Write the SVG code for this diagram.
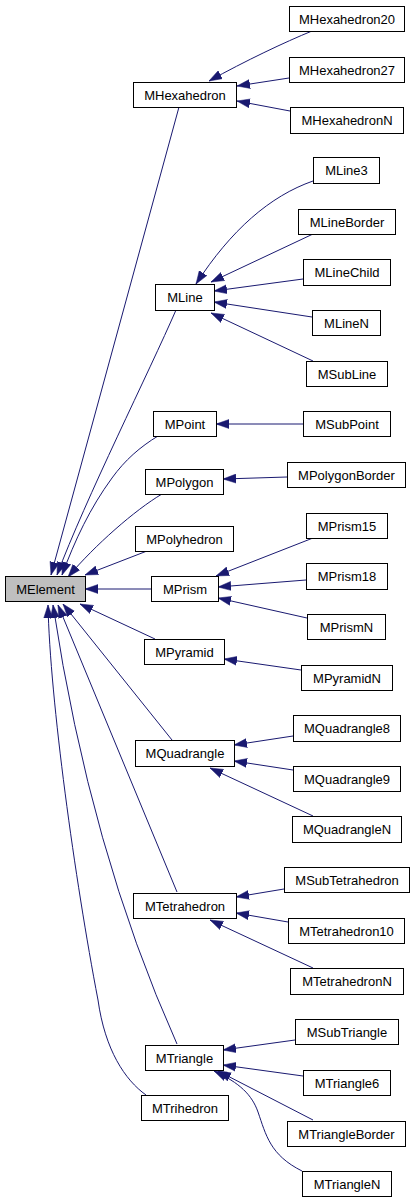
<svg xmlns="http://www.w3.org/2000/svg" width="415" height="1203" viewBox="0 0 415 1203">
<style>
.n rect{fill:#ffffff;stroke:#000000;stroke-width:1}
.n.root rect{fill:#bfbfbf}
.n text{font-family:"Liberation Sans",Arial,Helvetica,sans-serif;font-size:13px;fill:#000000;text-anchor:middle}
#edges path{fill:none;stroke:#191970;stroke-width:1;marker-end:url(#arr)}
</style>
<defs>
<marker id="arr" markerUnits="userSpaceOnUse" markerWidth="13" markerHeight="10" refX="13" refY="5" orient="auto">
<path d="M0,0.5 L13,5 L0,9.5 z" fill="#191970" stroke="#191970" stroke-width="0.5"/>
</marker>
</defs>
<rect width="415" height="1203" fill="#ffffff"/>
<g id="edges">
<path d="M312,31 C285,42 245,61 209,81"/>
<path d="M289,78 L237,86"/>
<path d="M290,111 L237,101"/>
<path d="M313,181 C270,196 231,230 196,284"/>
<path d="M313,234 L211,282"/>
<path d="M303,279 L214,291"/>
<path d="M312,317 L214,302"/>
<path d="M313,361 L211,313"/>
<path d="M303,424 L216,424"/>
<path d="M287,477 L223,479"/>
<path d="M313,538 L216,576"/>
<path d="M306,580 L218,587"/>
<path d="M307,618 L218,598"/>
<path d="M301,670 L224,659"/>
<path d="M293,736 L234,745"/>
<path d="M293,770 L234,761"/>
<path d="M313,816 L210,768"/>
<path d="M284,889 L236,897"/>
<path d="M288,922 L236,913"/>
<path d="M313,968 L210,920"/>
<path d="M295,1040 L223,1050"/>
<path d="M303,1076 L223,1065"/>
<path d="M313,1120 L218,1071"/>
<path d="M302,1171 C270,1155 266,1135 258,1112 C252,1095 240,1083 214,1071"/>
<path d="M179,107 L51,575"/>
<path d="M176,310 C150,370 85,500 57,575"/>
<path d="M158,436 C140,447 125,460 112,478 C90,508 75,540 62,575"/>
<path d="M162,494 C135,510 95,545 68,577"/>
<path d="M147,551 L85,575"/>
<path d="M151,589 L85,589"/>
<path d="M155,639 L80,604"/>
<path d="M172,740 L63,604"/>
<path d="M177,892 L58,605"/>
<path d="M177,1044 Q90,850 53,605"/>
<path d="M146,1095 C125,1080 105,1050 98,1000 C75,880 50,700 48,605"/>
</g>
<g id="MElement" class="n root"><rect x="5.5" y="576.5" width="80" height="25"/><text x="45.5" y="593.5">MElement</text></g>
<g id="MHexahedron" class="n"><rect x="133.5" y="82.5" width="103" height="25"/><text x="185" y="99.5">MHexahedron</text></g>
<g id="MHexahedron20" class="n"><rect x="289.5" y="6.5" width="115" height="25"/><text x="347" y="23.5">MHexahedron20</text></g>
<g id="MHexahedron27" class="n"><rect x="289.5" y="57.5" width="115" height="25"/><text x="347" y="74.5">MHexahedron27</text></g>
<g id="MHexahedronN" class="n"><rect x="290.5" y="107.5" width="113" height="26"/><text x="347" y="125">MHexahedronN</text></g>
<g id="MLine" class="n"><rect x="155.5" y="284.5" width="59" height="26"/><text x="185" y="302">MLine</text></g>
<g id="MLine3" class="n"><rect x="313.5" y="157.5" width="66" height="26"/><text x="346.5" y="175">MLine3</text></g>
<g id="MLineBorder" class="n"><rect x="298.5" y="209.5" width="97" height="25"/><text x="347" y="226.5">MLineBorder</text></g>
<g id="MLineChild" class="n"><rect x="303.5" y="259.5" width="87" height="26"/><text x="347" y="277">MLineChild</text></g>
<g id="MLineN" class="n"><rect x="312.5" y="310.5" width="68" height="25"/><text x="346.5" y="327.5">MLineN</text></g>
<g id="MSubLine" class="n"><rect x="306.5" y="361.5" width="81" height="25"/><text x="347" y="378.5">MSubLine</text></g>
<g id="MPoint" class="n"><rect x="153.5" y="411.5" width="63" height="25"/><text x="185" y="428.5">MPoint</text></g>
<g id="MSubPoint" class="n"><rect x="303.5" y="411.5" width="87" height="25"/><text x="347" y="428.5">MSubPoint</text></g>
<g id="MPolygon" class="n"><rect x="145.5" y="469.5" width="78" height="25"/><text x="184.5" y="486.5">MPolygon</text></g>
<g id="MPolygonBorder" class="n"><rect x="287.5" y="462.5" width="118" height="25"/><text x="346.5" y="479.5">MPolygonBorder</text></g>
<g id="MPolyhedron" class="n"><rect x="135.5" y="526.5" width="98" height="25"/><text x="184.5" y="543.5">MPolyhedron</text></g>
<g id="MPrism" class="n"><rect x="151.5" y="576.5" width="67" height="25"/><text x="185" y="593.5">MPrism</text></g>
<g id="MPrism15" class="n"><rect x="306.5" y="513.5" width="81" height="25"/><text x="347" y="530.5">MPrism15</text></g>
<g id="MPrism18" class="n"><rect x="306.5" y="563.5" width="81" height="26"/><text x="347" y="581">MPrism18</text></g>
<g id="MPrismN" class="n"><rect x="307.5" y="614.5" width="78" height="25"/><text x="346.5" y="631.5">MPrismN</text></g>
<g id="MPyramid" class="n"><rect x="144.5" y="639.5" width="80" height="25"/><text x="184.5" y="656.5">MPyramid</text></g>
<g id="MPyramidN" class="n"><rect x="301.5" y="665.5" width="91" height="25"/><text x="347" y="682.5">MPyramidN</text></g>
<g id="MQuadrangle" class="n"><rect x="135.5" y="740.5" width="99" height="26"/><text x="185" y="758">MQuadrangle</text></g>
<g id="MQuadrangle8" class="n"><rect x="293.5" y="715.5" width="107" height="26"/><text x="347" y="733">MQuadrangle8</text></g>
<g id="MQuadrangle9" class="n"><rect x="293.5" y="766.5" width="107" height="25"/><text x="347" y="783.5">MQuadrangle9</text></g>
<g id="MQuadrangleN" class="n"><rect x="292.5" y="816.5" width="109" height="26"/><text x="347" y="834">MQuadrangleN</text></g>
<g id="MTetrahedron" class="n"><rect x="133.5" y="893.5" width="103" height="25"/><text x="185" y="910.5">MTetrahedron</text></g>
<g id="MSubTetrahedron" class="n"><rect x="284.5" y="867.5" width="125" height="25"/><text x="347" y="884.5">MSubTetrahedron</text></g>
<g id="MTetrahedron10" class="n"><rect x="288.5" y="918.5" width="116" height="25"/><text x="346.5" y="935.5">MTetrahedron10</text></g>
<g id="MTetrahedronN" class="n"><rect x="290.5" y="968.5" width="113" height="26"/><text x="347" y="986">MTetrahedronN</text></g>
<g id="MTriangle" class="n"><rect x="145.5" y="1045.5" width="78" height="25"/><text x="184.5" y="1062.5">MTriangle</text></g>
<g id="MSubTriangle" class="n"><rect x="295.5" y="1019.5" width="103" height="25"/><text x="347" y="1036.5">MSubTriangle</text></g>
<g id="MTriangle6" class="n"><rect x="303.5" y="1070.5" width="87" height="25"/><text x="347" y="1087.5">MTriangle6</text></g>
<g id="MTrihedron" class="n"><rect x="141.5" y="1095.5" width="87" height="25"/><text x="185" y="1112.5">MTrihedron</text></g>
<g id="MTriangleBorder" class="n"><rect x="287.5" y="1121.5" width="118" height="25"/><text x="346.5" y="1138.5">MTriangleBorder</text></g>
<g id="MTriangleN" class="n"><rect x="302.5" y="1171.5" width="89" height="25"/><text x="347" y="1188.5">MTriangleN</text></g>
</svg>
